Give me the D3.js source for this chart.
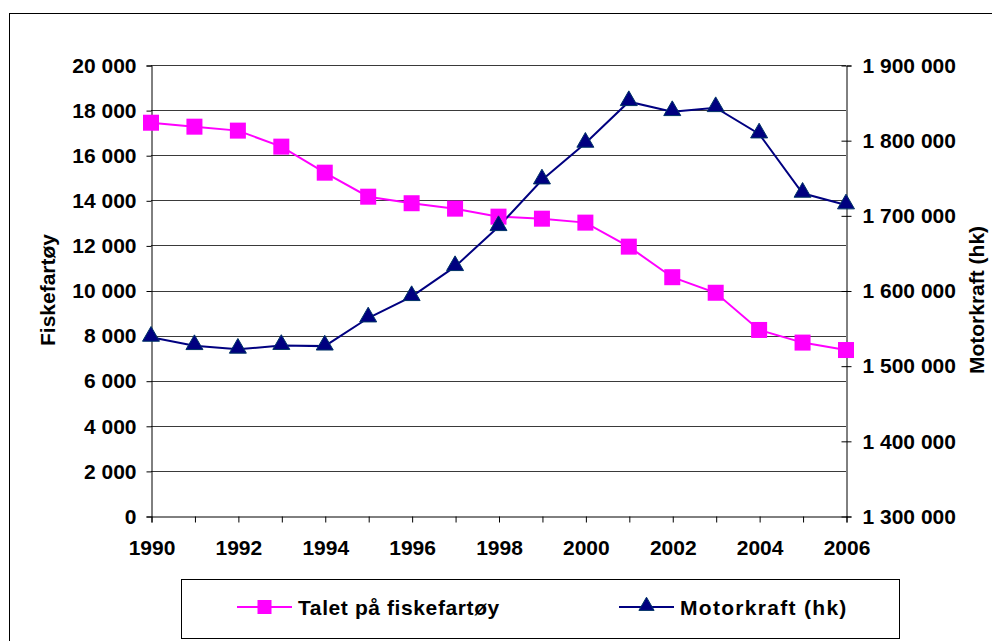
<!DOCTYPE html>
<html>
<head>
<meta charset="utf-8">
<script src="https://cdn.jsdelivr.net/npm/d3@7"></script>
<style>
  body { margin: 0; background: #fff; }
  svg text { font-family: "Liberation Sans", Arial, sans-serif; font-weight: bold; fill: #000; }
</style>
</head>
<body>
<svg id="chart" width="992" height="641"></svg>
<script>
// data
const years = [1990, 1991, 1992, 1993, 1994, 1995, 1996, 1997, 1998, 1999, 2000, 2001, 2002, 2003, 2004, 2005, 2006];
const vessels = [17440, 17265, 17090, 16380, 15225, 14160, 13870, 13630, 13275, 13185, 13010, 11945, 10590, 9900, 8250, 7690, 7360];
const horsepower = [1537700, 1526600, 1521800, 1526800, 1526000, 1563400, 1591800, 1631700, 1684900, 1747000,
                    1795800, 1851200, 1837900, 1843200, 1808200, 1729300, 1713800];
const leftTicks = [0, 2000, 4000, 6000, 8000, 10000, 12000, 14000, 16000, 18000, 20000];
const rightTicks = [1300000, 1400000, 1500000, 1600000, 1700000, 1800000, 1900000];
const seriesNames = ["Talet på fiskefartøy", "Motorkraft (hk)"];
const axisTitles = ["Fiskefartøy", "Motorkraft (hk)"];

const pink = "#ff00ff";
const navy = "#000080";

const svg = d3.select("svg#chart");

// plot area
const plotLeft = 151, plotRight = 846, plotTop = 65, plotBottom = 516;

const x = d3.scaleLinear().domain([1990, 2006]).range([plotLeft, plotRight]);
const yL = d3.scaleLinear().domain([0, 20000]).range([plotBottom, plotTop]);
const yR = d3.scaleLinear().domain([1300000, 1900000]).range([plotBottom, plotTop]);

const nb = d3.formatLocale({ decimal: ",", thousands: " ", grouping: [3], currency: ["", ""] }).format(",d");

// outer chart border
svg.append("rect")
    .attr("x", 9.5).attr("y", 13.5)
    .attr("width", 1000).attr("height", 1000)
    .attr("fill", "none").attr("stroke", "#000").attr("stroke-width", 1);

// gridlines
svg.append("g").selectAll("line")
    .data(leftTicks.filter(d => d > 0))
    .enter().append("line")
    .attr("x1", plotLeft).attr("x2", plotRight)
    .attr("y1", d => Math.round(yL(d)) + 0.5)
    .attr("y2", d => Math.round(yL(d)) + 0.5)
    .attr("stroke", "#3a3a3a").attr("stroke-width", 1);

// left axis
const gL = svg.append("g")
    .attr("transform", `translate(${plotLeft + 0.5},0.5)`)
    .call(d3.axisLeft(yL).tickValues(leftTicks).tickSize(5).tickPadding(10).tickFormat(nb));
gL.selectAll("text").style("font-size", "21px");

// right axis, ticks cross the line
const gR = svg.append("g")
    .attr("transform", `translate(${plotRight + 0.5},0.5)`)
    .call(d3.axisRight(yR).tickValues(rightTicks).tickSize(5).tickPadding(11).tickFormat(nb));
gR.selectAll(".tick line").attr("x1", -5);
gR.selectAll("text").style("font-size", "21px");

// bottom axis
const gB = svg.append("g")
    .attr("transform", `translate(0.5,${plotBottom + 0.5})`)
    .call(d3.axisBottom(x).tickValues(years).tickSize(6).tickPadding(18)
        .tickFormat(d => d % 2 === 0 ? String(d) : ""));
gB.selectAll("text").style("font-size", "21px");

svg.selectAll(".domain").attr("stroke", "#000");
svg.selectAll(".tick line").attr("stroke", "#000");

// lines
const lineL = d3.line().x((d, i) => x(years[i])).y(d => yL(d));
const lineR = d3.line().x((d, i) => x(years[i])).y(d => yR(d));

svg.append("path").datum(vessels)
    .attr("d", lineL).attr("fill", "none")
    .attr("stroke", pink).attr("stroke-width", 2);

svg.append("path").datum(horsepower)
    .attr("d", lineR).attr("fill", "none")
    .attr("stroke", navy).attr("stroke-width", 2);

// markers
const sq = 16;
svg.append("g").selectAll("rect")
    .data(vessels).enter().append("rect")
    .attr("x", (d, i) => x(years[i]) - sq / 2)
    .attr("y", d => yL(d) - sq / 2)
    .attr("width", sq).attr("height", sq)
    .attr("fill", pink);

const tri = d3.symbol().type(d3.symbolTriangle).size(125);
svg.append("g").selectAll("path")
    .data(horsepower).enter().append("path")
    .attr("d", tri)
    .attr("transform", (d, i) => `translate(${x(years[i])},${yR(d) - 1})`)
    .attr("fill", navy).attr("stroke", "#003366").attr("stroke-width", 1);

// axis titles
svg.append("text")
    .attr("transform", "translate(47,290) rotate(-90)")
    .attr("text-anchor", "middle").attr("dominant-baseline", "central")
    .style("font-size", "21px")
    .text(axisTitles[0]);

svg.append("text")
    .attr("transform", "translate(976,300) rotate(-90)")
    .attr("text-anchor", "middle").attr("dominant-baseline", "central")
    .style("font-size", "21px")
    .text(axisTitles[1]);

// legend
svg.append("rect")
    .attr("x", 181.5).attr("y", 579.5)
    .attr("width", 718).attr("height", 59)
    .attr("fill", "#fff").attr("stroke", "#000").attr("stroke-width", 1);

const legY = 607;
svg.append("line").attr("x1", 237).attr("x2", 292).attr("y1", legY).attr("y2", legY)
    .attr("stroke", pink).attr("stroke-width", 2);
svg.append("rect").attr("x", 264.5 - 7).attr("y", legY - 7).attr("width", 14).attr("height", 14)
    .attr("fill", pink);
svg.append("text").attr("x", 298).attr("y", legY).attr("dominant-baseline", "central")
    .style("font-size", "21px").style("letter-spacing", "0.6px")
    .text(seriesNames[0]);

svg.append("line").attr("x1", 619).attr("x2", 674).attr("y1", legY).attr("y2", legY)
    .attr("stroke", navy).attr("stroke-width", 2);
svg.append("path").attr("d", d3.symbol().type(d3.symbolTriangle).size(100))
    .attr("transform", `translate(646.5,${legY - 1})`)
    .attr("fill", navy).attr("stroke", "#003366").attr("stroke-width", 1);
svg.append("text").attr("x", 680).attr("y", legY).attr("dominant-baseline", "central")
    .style("font-size", "21px").style("letter-spacing", "1.3px")
    .text(seriesNames[1]);
</script>
</body>
</html>
